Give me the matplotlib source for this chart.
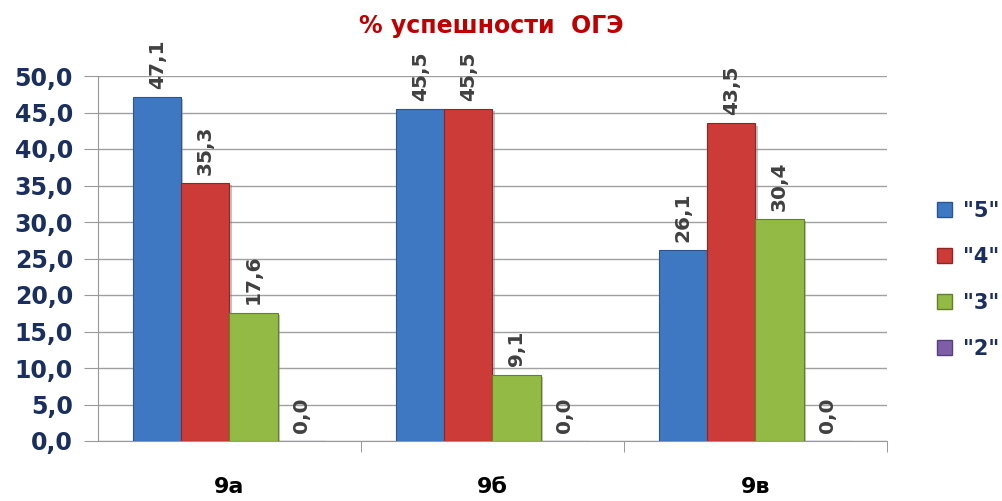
import matplotlib
matplotlib.use("Agg")
import matplotlib.pyplot as plt
import matplotlib.patheffects as pe
import numpy as np

categories = ["9а", "9б", "9в"]
series_names = ['"5"', '"4"', '"3"', '"2"']
values = {
    '"5"': [47.1, 45.5, 26.1],
    '"4"': [35.3, 45.5, 43.5],
    '"3"': [17.6, 9.1, 30.4],
    '"2"': [0.0, 0.0, 0.0],
}
colors = ["#3f78c2", "#cc3b38", "#93ba44", "#7e5ea8"]
edge_colors = ["#2a5590", "#8e2624", "#62802a", "#55407a"]
yticks = [0, 5, 10, 15, 20, 25, 30, 35, 40, 45, 50]

shadow = [pe.withSimplePatchShadow(offset=(1.5, -1.5), shadow_rgbFace="#888888", alpha=0.5)]

fig = plt.figure(figsize=(10.03, 5.01), dpi=100)
ax = fig.add_axes([98/1003, 1-441/501, (887-98)/1003, (441-76)/501])

x = np.arange(len(categories))
w = 0.183
navy = "#1b2f5e"
for i, name in enumerate(series_names):
    pos = x + (i - 1.5) * w
    vals = values[name]
    ax.bar(pos, vals, width=w, color=colors[i], edgecolor=edge_colors[i],
           linewidth=0.8, zorder=3, path_effects=shadow)
    for px, v in zip(pos, vals):
        ax.annotate(f"{v:.1f}".replace(".", ","), (px, v), xytext=(0, 6),
                    textcoords="offset points", rotation=90, ha="center",
                    va="bottom", fontsize=14.5, fontweight="bold", color="#404040",
                    zorder=4)

ax.set_xlim(-0.5, 2.5)
ax.set_ylim(0, 50)
ax.set_yticks(yticks)
ax.set_yticklabels([f"{t:.1f}".replace(".", ",") for t in yticks],
                   fontsize=17, fontweight="bold", color=navy)
ax.set_xticks(x)
ax.set_xticklabels(categories, fontsize=16, fontweight="bold", color="black")
ax.tick_params(axis="x", length=0, pad=26)
ax.set_xticks([0.5, 1.5, 2.5], minor=True)
ax.tick_params(axis="x", which="minor", length=8, color="#888888", direction="out")
ax.tick_params(axis="y", length=10, color="#999999", pad=8)
ax.grid(axis="y", color="#a0a0a0", linewidth=1, zorder=0)
for s in ["top", "right"]:
    ax.spines[s].set_visible(False)
ax.spines["left"].set_color("#999999")
ax.spines["bottom"].set_color("#999999")

fig.text(491/1003, 1-26/501, "% успешности  ОГЭ", ha="center", va="center",
         fontsize=17, fontweight="bold", color="#c00000")

handles = [plt.Rectangle((0, 0), 1, 1, color=c, ec=e) for c, e in zip(colors, edge_colors)]
leg = fig.legend(handles, series_names, loc="center left",
                 bbox_to_anchor=(922/1003, 1-280/501), frameon=False,
                 handlelength=0.75, handleheight=0.75, labelspacing=1.25,
                 handletextpad=0.5, borderpad=0.2,
                 prop={"size": 15, "weight": "bold"})
for t in leg.get_texts():
    t.set_color(navy)

fig.savefig("out.png", dpi=100)
